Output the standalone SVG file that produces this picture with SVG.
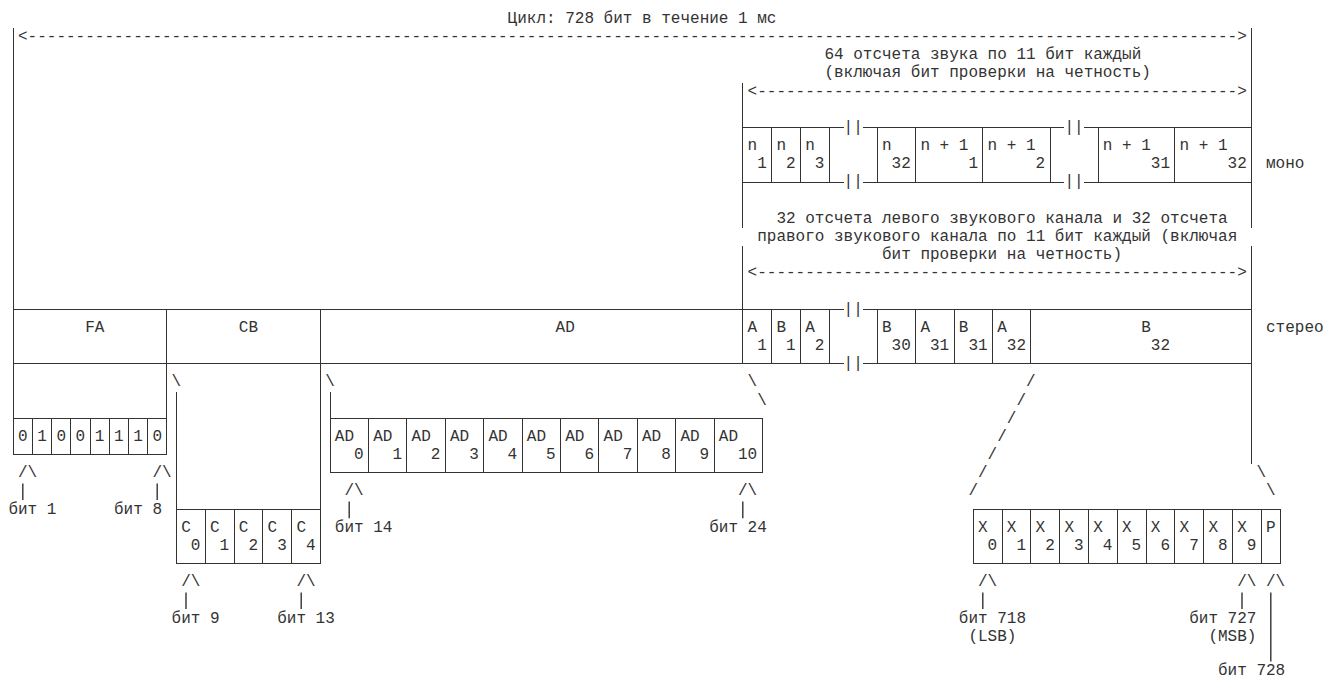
<svg xmlns="http://www.w3.org/2000/svg" width="1327" height="678" viewBox="0 0 1327 678">
<style>
.t{font-family:"Liberation Mono","Courier New","DejaVu Sans Mono",monospace;font-size:16px;fill:#333;white-space:pre}
.l{stroke:#333;stroke-width:1;fill:none;shape-rendering:crispEdges}
.s{stroke:#333;stroke-width:1.4;fill:none}
</style>
<rect width="1327" height="678" fill="#fff"/>

<g id="frame">
<text class="t" x="507.6" y="22.9">Цикл: 728 бит в течение 1 мс</text>
<text class="t" x="18" y="41.1" textLength="1228.8" lengthAdjust="spacing">&lt;------------------------------------------------------------------------------------------------------------------------------&gt;</text>
<path class="l" d="M13.2 28.2V454.7M1251.6 28.2V228M1251.6 246.2V464.3M742.8 82.7V228M742.8 246.2V363.8"/>
</g>

<g id="mono-label">
<text class="t" x="824.4" y="59.2">64 отсчета звука по 11 бит каждый</text>
<text class="t" x="824.4" y="77.4">(включая бит проверки на четность)</text>
<text class="t" x="747.6" y="95.6" textLength="499.2" lengthAdjust="spacing">&lt;--------------------------------------------------&gt;</text>
</g>

<g id="mono">
<path class="l" d="M742.8 127.6H843.6M862.8 127.6H1064.4M1083.6 127.6H1251.6M742.8 182.1H843.6M862.8 182.1H1064.4M1083.6 182.1H1251.6M771.6 127.6V182.1M800.4 127.6V182.1M829.2 127.6V182.1M877.2 127.6V182.1M915.6 127.6V182.1M982.8 127.6V182.1M1050 127.6V182.1M1098 127.6V182.1M1174.8 127.6V182.1"/>
<text class="t" x="843.6" y="131.9">||</text><text class="t" x="1064.4" y="131.9">||</text>
<text class="t" x="843.6" y="186.4">||</text><text class="t" x="1064.4" y="186.4">||</text>
<text class="t" x="747.6" y="150.1">n</text><text class="t" x="776.4" y="150.1">n</text><text class="t" x="805.2" y="150.1">n</text><text class="t" x="882" y="150.1">n</text>
<text class="t" x="920.4" y="150.1">n + 1</text><text class="t" x="987.6" y="150.1">n + 1</text><text class="t" x="1102.8" y="150.1">n + 1</text><text class="t" x="1179.6" y="150.1">n + 1</text>
<text class="t" x="757.2" y="168.3">1</text><text class="t" x="786" y="168.3">2</text><text class="t" x="814.8" y="168.3">3</text><text class="t" x="891.6" y="168.3">32</text>
<text class="t" x="968.4" y="168.3">1</text><text class="t" x="1035.6" y="168.3">2</text><text class="t" x="1150.8" y="168.3">31</text><text class="t" x="1227.6" y="168.3">32</text>
<text class="t" x="1266" y="168.3">моно</text>
</g>

<g id="stereo-label">
<text class="t" x="776.4" y="222.8">32 отсчета левого звукового канала и 32 отсчета</text>
<text class="t" x="757.2" y="240.9">правого звукового канала по 11 бит каждый (включая</text>
<text class="t" x="882" y="259.1">бит проверки на четность)</text>
<text class="t" x="747.6" y="277.3" textLength="499.2" lengthAdjust="spacing">&lt;--------------------------------------------------&gt;</text>
</g>

<g id="stereo">
<path class="l" d="M13.2 309.3H843.6M862.8 309.3H1251.6M13.2 363.8H843.6M862.8 363.8H1251.6M166.8 309.3V454.7M320.4 309.3V563.7M771.6 309.3V363.8M800.4 309.3V363.8M829.2 309.3V363.8M877.2 309.3V363.8M915.6 309.3V363.8M954 309.3V363.8M992.4 309.3V363.8M1030.8 309.3V363.8"/>
<text class="t" x="843.6" y="313.6">||</text><text class="t" x="843.6" y="368.1">||</text>
<text class="t" x="85.2" y="331.8">FA</text><text class="t" x="238.8" y="331.8">CB</text><text class="t" x="555.6" y="331.8">AD</text>
<text class="t" x="747.6" y="331.8">A</text><text class="t" x="776.4" y="331.8">B</text><text class="t" x="805.2" y="331.8">A</text>
<text class="t" x="882" y="331.8">B</text><text class="t" x="920.4" y="331.8">A</text><text class="t" x="958.8" y="331.8">B</text><text class="t" x="997.2" y="331.8">A</text><text class="t" x="1141.2" y="331.8">B</text>
<text class="t" x="1266" y="331.8">стерео</text>
<text class="t" x="757.2" y="350">1</text><text class="t" x="786" y="350">1</text><text class="t" x="814.8" y="350">2</text>
<text class="t" x="891.6" y="350">30</text><text class="t" x="930" y="350">31</text><text class="t" x="968.4" y="350">31</text><text class="t" x="1006.8" y="350">32</text><text class="t" x="1150.8" y="350">32</text>
</g>

<g id="fa-bits">
<path class="l" d="M13.2 418.3H166.8M13.2 454.7H166.8M32.4 418.3V454.7M51.6 418.3V454.7M70.8 418.3V454.7M90 418.3V454.7M109.2 418.3V454.7M128.4 418.3V454.7M147.6 418.3V454.7"/>
<text class="t" x="18" y="440.8">0</text><text class="t" x="37.2" y="440.8">1</text><text class="t" x="56.4" y="440.8">0</text><text class="t" x="75.6" y="440.8">0</text>
<text class="t" x="94.8" y="440.8">1</text><text class="t" x="114" y="440.8">1</text><text class="t" x="133.2" y="440.8">1</text><text class="t" x="152.4" y="440.8">0</text>
</g>

<g id="cb-bits">
<path class="l" d="M176.4 391.6V563.7M176.4 509.2H320.4M176.4 563.7H320.4M205.2 509.2V563.7M234 509.2V563.7M262.8 509.2V563.7M291.6 509.2V563.7"/>
<text class="t" x="181.2" y="531.7">C</text><text class="t" x="210" y="531.7">C</text><text class="t" x="238.8" y="531.7">C</text><text class="t" x="267.6" y="531.7">C</text><text class="t" x="296.4" y="531.7">C</text>
<text class="t" x="190.8" y="549.8">0</text><text class="t" x="219.6" y="549.8">1</text><text class="t" x="248.4" y="549.8">2</text><text class="t" x="277.2" y="549.8">3</text><text class="t" x="306" y="549.8">4</text>
</g>

<g id="ad-bits">
<path class="l" d="M330 391.6V472.9M330 418.3H762M330 472.9H762M368.4 418.3V472.9M406.8 418.3V472.9M445.2 418.3V472.9M483.6 418.3V472.9M522 418.3V472.9M560.4 418.3V472.9M598.8 418.3V472.9M637.2 418.3V472.9M675.6 418.3V472.9M714 418.3V472.9M762 418.3V472.9"/>
<text class="t" x="334.8" y="440.8">AD</text><text class="t" x="373.2" y="440.8">AD</text><text class="t" x="411.6" y="440.8">AD</text><text class="t" x="450" y="440.8">AD</text>
<text class="t" x="488.4" y="440.8">AD</text><text class="t" x="526.8" y="440.8">AD</text><text class="t" x="565.2" y="440.8">AD</text><text class="t" x="603.6" y="440.8">AD</text>
<text class="t" x="642" y="440.8">AD</text><text class="t" x="680.4" y="440.8">AD</text><text class="t" x="718.8" y="440.8">AD</text>
<text class="t" x="354" y="459">0</text><text class="t" x="392.4" y="459">1</text><text class="t" x="430.8" y="459">2</text><text class="t" x="469.2" y="459">3</text>
<text class="t" x="507.6" y="459">4</text><text class="t" x="546" y="459">5</text><text class="t" x="584.4" y="459">6</text><text class="t" x="622.8" y="459">7</text>
<text class="t" x="661.2" y="459">8</text><text class="t" x="699.6" y="459">9</text><text class="t" x="738" y="459">10</text>
</g>

<g id="x-bits">
<path class="l" d="M973.2 509.2H1280.4M973.2 563.7H1280.4M973.2 509.2V563.7M1002 509.2V563.7M1030.8 509.2V563.7M1059.6 509.2V563.7M1088.4 509.2V563.7M1117.2 509.2V563.7M1146 509.2V563.7M1174.8 509.2V563.7M1203.6 509.2V563.7M1232.4 509.2V563.7M1261.2 509.2V563.7M1280.4 509.2V563.7"/>
<text class="t" x="978" y="531.7">X</text><text class="t" x="1006.8" y="531.7">X</text><text class="t" x="1035.6" y="531.7">X</text><text class="t" x="1064.4" y="531.7">X</text>
<text class="t" x="1093.2" y="531.7">X</text><text class="t" x="1122" y="531.7">X</text><text class="t" x="1150.8" y="531.7">X</text><text class="t" x="1179.6" y="531.7">X</text>
<text class="t" x="1208.4" y="531.7">X</text><text class="t" x="1237.2" y="531.7">X</text><text class="t" x="1266" y="531.7">P</text>
<text class="t" x="987.6" y="549.8">0</text><text class="t" x="1016.4" y="549.8">1</text><text class="t" x="1045.2" y="549.8">2</text><text class="t" x="1074" y="549.8">3</text>
<text class="t" x="1102.8" y="549.8">4</text><text class="t" x="1131.6" y="549.8">5</text><text class="t" x="1160.4" y="549.8">6</text><text class="t" x="1189.2" y="549.8">7</text>
<text class="t" x="1218" y="549.8">8</text><text class="t" x="1246.8" y="549.8">9</text>
</g>

<g id="connectors">
<text class="t" x="171.6" y="386.3">\</text><text class="t" x="325.2" y="386.3">\</text><text class="t" x="747.6" y="386.3">\</text><text class="t" x="1026" y="386.3">/</text>
<text class="t" x="757.2" y="404.5">\</text><text class="t" x="1016.4" y="404.5">/</text>
<text class="t" x="1006.8" y="422.6">/</text>
<text class="t" x="997.2" y="440.8">/</text>
<text class="t" x="987.6" y="459">/</text>
<text class="t" x="18" y="477.2">/\</text><text class="t" x="152.4" y="477.2">/\</text><text class="t" x="978" y="477.2">/</text><text class="t" x="1256.4" y="477.2">\</text>
<text class="t" x="344.4" y="495.3">/\</text><text class="t" x="738" y="495.3">/\</text><text class="t" x="968.4" y="495.3">/</text><text class="t" x="1266" y="495.3">\</text>
<text class="t" x="181.2" y="586.2">/\</text><text class="t" x="296.4" y="586.2">/\</text><text class="t" x="978" y="586.2">/\</text><text class="t" x="1237.2" y="586.2">/\</text><text class="t" x="1266" y="586.2">/\</text>
<path class="s" d="M22.8 483.4V500M157.2 483.4V500M349.2 501.6V518.2M742.8 501.6V518.2M186 592.4V609M301.2 592.4V609M982.8 592.4V609M1242 592.4V609M1270.8 592.4V661.5"/>
</g>

<g id="bit-labels">
<text class="t" x="8.4" y="513.5">бит 1</text><text class="t" x="114" y="513.5">бит 8</text>
<text class="t" x="334.8" y="531.7">бит 14</text><text class="t" x="709.2" y="531.7">бит 24</text>
<text class="t" x="171.6" y="622.5">бит 9</text><text class="t" x="277.2" y="622.5">бит 13</text>
<text class="t" x="958.8" y="622.5">бит 718</text><text class="t" x="1189.2" y="622.5">бит 727</text>
<text class="t" x="968.4" y="640.7">(LSB)</text><text class="t" x="1208.4" y="640.7">(MSB)</text>
<text class="t" x="1218" y="674.5">бит 728</text>
</g>
</svg>
